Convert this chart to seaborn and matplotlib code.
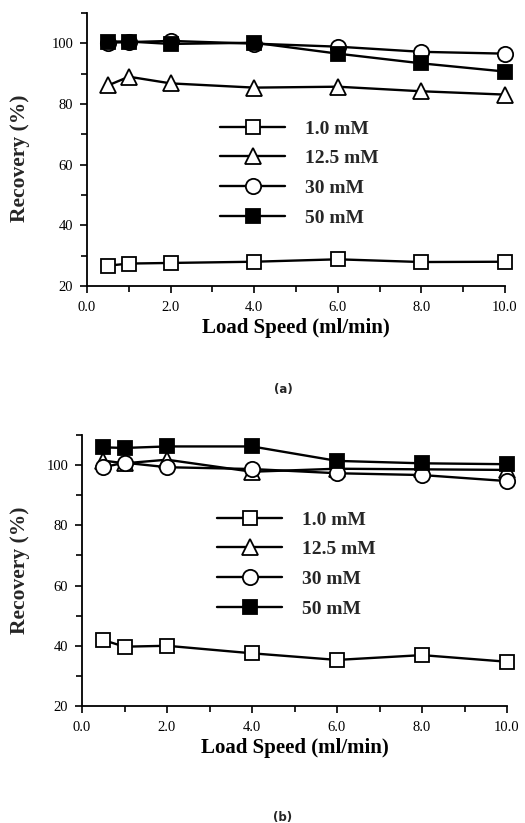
import matplotlib
matplotlib.use("Agg")
import matplotlib.pyplot as plt
import seaborn as sns
import pandas as pd
from matplotlib.ticker import MultipleLocator, FormatStrFormatter

sns.set_theme(style="ticks")
plt.rcParams['font.family'] = ['Liberation Serif', 'DejaVu Serif']

speed = [0.5, 1.0, 2.0, 4.0, 6.0, 8.0, 10.0]
series = ["1.0 mM", "12.5 mM", "30 mM", "50 mM"]

# panel (a)
a_1mM = [26.7, 27.4, 27.6, 28.0, 28.8, 27.9, 28.0]
a_12mM = [86.1, 89.0, 86.8, 85.4, 85.7, 84.2, 83.1]
a_30mM = [100.2, 100.4, 100.8, 99.9, 98.9, 97.2, 96.6]
a_50mM = [100.6, 100.6, 99.8, 100.2, 96.6, 93.4, 90.7]

# panel (b)
b_1mM = [41.9, 39.7, 40.0, 37.5, 35.3, 36.9, 34.7]
b_12mM = [101.5, 100.6, 101.8, 97.8, 98.8, 98.6, 98.4]
b_30mM = [99.3, 100.8, 99.3, 98.7, 97.3, 96.7, 94.7]
b_50mM = [105.9, 105.7, 106.2, 106.2, 101.4, 100.6, 100.3]

x_ticks = [0, 2, 4, 6, 8, 10]
y_ticks = [20, 40, 60, 80, 100]

styles = {
    "1.0 mM": dict(marker="s", mfc="white", ms=10.5),
    "12.5 mM": dict(marker="^", mfc="white", ms=11.5),
    "30 mM": dict(marker="o", mfc="white", ms=11),
    "50 mM": dict(marker="s", mfc="black", ms=10.5),
}

W, H = 525, 823
fig = plt.figure(figsize=(W / 100, H / 100), dpi=100)
fig.patch.set_facecolor("white")


def make_panel(rect, vals, leg_xy, ylab_y, cap, cap_y):
    l, t, r, b = rect
    ax = fig.add_axes([l / W, 1 - b / H, (r - l) / W, (b - t) / H])
    ax.set_facecolor("white")
    for name, v in zip(series, vals):
        df = pd.DataFrame({"speed": speed, "rec": v})
        st = styles[name]
        sns.lineplot(data=df, x="speed", y="rec", ax=ax, color="black",
                     linewidth=1.7, marker=st["marker"], markersize=st["ms"],
                     markerfacecolor=st["mfc"], markeredgecolor="black",
                     markeredgewidth=1.3, label=name, zorder=3, clip_on=False)
    ax.set_xlim(0, 10)
    ax.set_ylim(20, 110)
    ax.set_xticks(x_ticks)
    ax.xaxis.set_minor_locator(MultipleLocator(1))
    ax.set_yticks(y_ticks)
    ax.yaxis.set_minor_locator(MultipleLocator(10))
    ax.xaxis.set_major_formatter(FormatStrFormatter("%.1f"))
    ax.tick_params(axis="both", which="major", length=5, width=1.2,
                   labelsize=10.5, color="black", labelcolor="black",
                   direction="out")
    ax.tick_params(axis="x", which="major", pad=6)
    ax.tick_params(axis="y", which="major", pad=5)
    ax.tick_params(axis="both", which="minor", length=4, width=1.2,
                   color="black", direction="out")
    for s in ["top", "right"]:
        ax.spines[s].set_visible(False)
    for s in ["left", "bottom"]:
        ax.spines[s].set_color("black")
        ax.spines[s].set_linewidth(1.3)
    ax.set_xlabel("Load Speed (ml/min)", fontsize=15, fontweight="bold",
                  color="black", labelpad=3)
    ax.set_ylabel("")
    fig.text(20 / W, 1 - ylab_y / H, "Recovery (%)", rotation=90,
             fontsize=15.5, fontweight="bold", ha="center", va="center")
    ax.legend(loc="upper left",
              bbox_to_anchor=(leg_xy[0] / W, 1 - leg_xy[1] / H),
              bbox_transform=fig.transFigure, frameon=False,
              borderpad=0, borderaxespad=0, handlelength=3.35,
              handletextpad=1.0, labelspacing=0.62,
              prop=dict(family="Liberation Serif", weight="bold", size=14))
    fig.text(283 / W, 1 - cap_y / H, cap, fontsize=8.5, fontweight="bold",
             family="DejaVu Sans", ha="center", va="center")
    return ax


make_panel((87, 13, 505, 286), [a_1mM, a_12mM, a_30mM, a_50mM],
           (220, 120), 158, "(a)", 390)
make_panel((82, 435, 507, 706), [b_1mM, b_12mM, b_30mM, b_50mM],
           (217, 511), 570, "(b)", 817)

fig.savefig("out.png", dpi=100, facecolor="white")
